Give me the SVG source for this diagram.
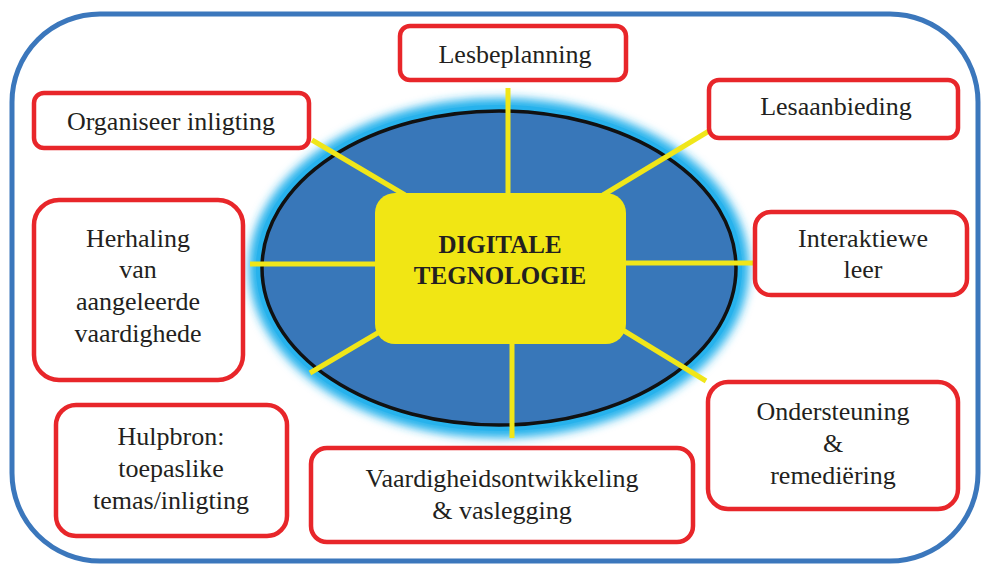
<svg xmlns="http://www.w3.org/2000/svg" width="981" height="564" viewBox="0 0 981 564">
<style>
.box{fill:#fff;stroke:#e8262a;stroke-width:4.5}
.t{font-family:"Liberation Serif","Times New Roman",serif;font-size:26px;fill:#231f20;text-anchor:middle}
.tb{font-family:"Liberation Serif","Times New Roman",serif;font-size:25px;font-weight:bold;fill:#231f20;text-anchor:middle}
.c{stroke:#f0e619;stroke-width:5;fill:none}
</style>
<defs>
<filter id="glow" x="-20%" y="-20%" width="140%" height="140%"><feGaussianBlur stdDeviation="5"/></filter>
</defs>
<rect x="12" y="14" width="966" height="547" rx="88" fill="#fff" stroke="#3b77bc" stroke-width="5"/>
<g id="hub">
<ellipse cx="499" cy="268" rx="250" ry="170" fill="#27b2ec" filter="url(#glow)"/>
<ellipse cx="499" cy="268" rx="243" ry="163" fill="#27b2ec"/>
<ellipse cx="499" cy="268" rx="237" ry="157" fill="#3877b9" stroke="#111" stroke-width="3.5"/>
</g>
<g id="connectors">
<line class="c" x1="312" y1="140" x2="405" y2="195"/>
<line class="c" x1="508" y1="88" x2="508" y2="195"/>
<line class="c" x1="709" y1="131" x2="603" y2="195"/>
<line class="c" x1="625" y1="263" x2="781" y2="263"/>
<line class="c" x1="250" y1="264" x2="377" y2="264"/>
<line class="c" x1="310" y1="373" x2="381" y2="331"/>
<line class="c" x1="512" y1="341" x2="512" y2="438"/>
<line class="c" x1="621" y1="329" x2="706" y2="381"/>
</g>
<g id="center">
<rect x="375" y="193" width="251" height="151" rx="20" fill="#f1e614"/>
<text class="tb" x="500" y="253">DIGITALE</text>
<text class="tb" x="500" y="284">TEGNOLOGIE</text>
</g>
<g id="lesbeplanning">
<rect class="box" x="400" y="26" width="226" height="54" rx="10"/>
<text class="t" x="515" y="63">Lesbeplanning</text>
</g>
<g id="organiseer">
<rect class="box" x="34" y="93" width="275" height="55" rx="10"/>
<text class="t" x="171" y="130">Organiseer inligting</text>
</g>
<g id="lesaanbieding">
<rect class="box" x="709" y="80" width="249" height="58" rx="10"/>
<text class="t" x="836" y="115">Lesaanbieding</text>
</g>
<g id="herhaling">
<rect class="box" x="34" y="200" width="209" height="180" rx="25"/>
<text class="t" x="138" y="247">Herhaling</text>
<text class="t" x="138" y="278">van</text>
<text class="t" x="138" y="310">aangeleerde</text>
<text class="t" x="138" y="342">vaardighede</text>
</g>
<g id="interaktiewe">
<rect class="box" x="755" y="212" width="212" height="83" rx="16"/>
<text class="t" x="863" y="247">Interaktiewe</text>
<text class="t" x="863" y="278">leer</text>
</g>
<g id="hulpbron">
<rect class="box" x="56" y="405" width="231" height="131" rx="20"/>
<text class="t" x="171" y="445">Hulpbron:</text>
<text class="t" x="171" y="477">toepaslike</text>
<text class="t" x="171" y="509">temas/inligting</text>
</g>
<g id="vaardigheid">
<rect class="box" x="311" y="448" width="382" height="94" rx="16"/>
<text class="t" x="502" y="487">Vaardigheidsontwikkeling</text>
<text class="t" x="502" y="519">&amp; vaslegging</text>
</g>
<g id="ondersteuning">
<rect class="box" x="708" y="382" width="250" height="127" rx="20"/>
<text class="t" x="833" y="420">Ondersteuning</text>
<text class="t" x="833" y="452">&amp;</text>
<text class="t" x="833" y="484">remediëring</text>
</g>
</svg>
